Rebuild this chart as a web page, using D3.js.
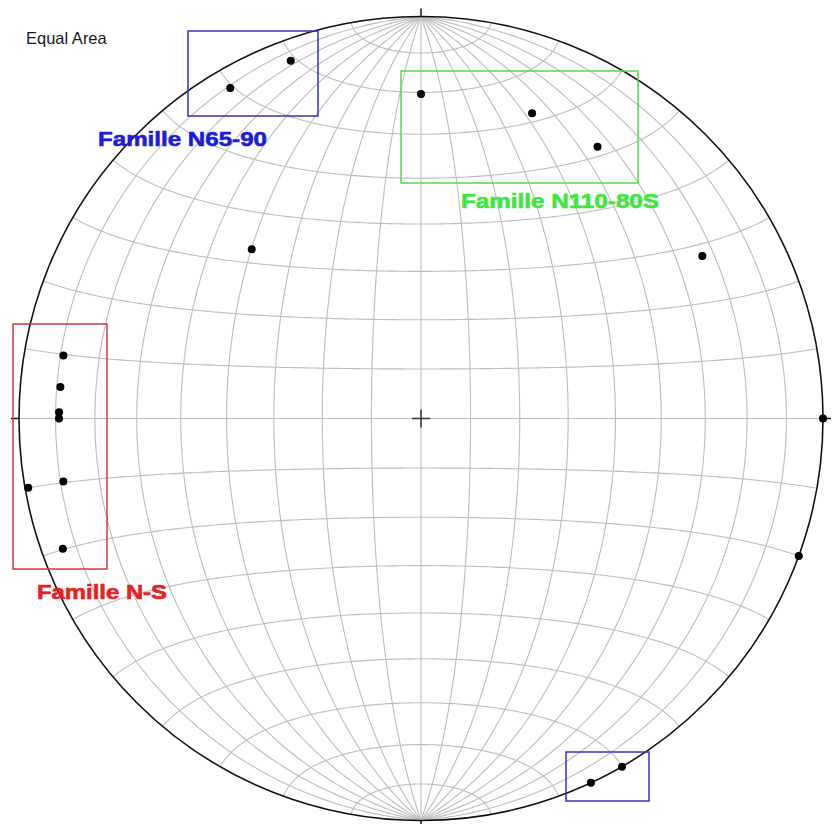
<!DOCTYPE html>
<html>
<head>
<meta charset="utf-8">
<script src="https://cdn.jsdelivr.net/npm/d3@7"></script>
<style>
  html, body { margin: 0; padding: 0; background: #fff; }
  svg { display: block; }
</style>
</head>
<body>
<svg id="chart" width="837" height="824"></svg>
<script>
// ---- Data: poles (lower hemisphere), trend / plunge in degrees ----
const poleFamily = ["N65-90","N65-90","N110-80S","N110-80S","N110-80S","other","other","other","other",
                    "N65-90","N65-90","N-S","N-S","N-S","N-S","N-S","N-S","N-S"];
const poleTrend  = [330, 340,   0,  20,  33, 315,  60,  90, 110, 155, 150, 280, 275, 271, 270, 260, 260, 250];
const polePlunge = [5.7, 5.9, 20.4, 20.3, 20.5, 40.2, 20.3, 0, 0, 0, 0, 10.6, 10.9, 10.9, 10.9, 10.6, 0.9, 5.8];

// Net grid (degrees)
const gridStep = 10;
const gridAngles = d3.range(-80, 81, gridStep);

// Labels
const titleText = "Equal Area";
const familyLabels = ["Famille N65-90", "Famille N110-80S", "Famille N-S"];

// ---- Layout ----
const W = 837, H = 824;
const cx = 421, cy = 418.5, R = 402;
const svg = d3.select("#chart");

const projection = d3.geoAzimuthalEqualArea()
  .rotate([0, 0])
  .scale(R / Math.SQRT2)
  .translate([cx, cy]);
const path = d3.geoPath(projection);

// Great circles (meridians) and small circles (parallels)
const gridLines = [];
gridAngles.forEach(lon => {
  gridLines.push({type: "LineString", coordinates: d3.range(-90, 90.01, 1).map(lat => [lon, lat])});
});
gridAngles.forEach(lat => {
  gridLines.push({type: "LineString", coordinates: d3.range(-90, 90.01, 1).map(lon => [lon, lat])});
});

svg.append("g")
  .selectAll("path")
  .data(gridLines)
  .join("path")
  .attr("d", path)
  .attr("fill", "none")
  .attr("stroke", "#bdbdbd")
  .attr("stroke-width", 1.1);

// Primitive circle
svg.append("circle")
  .attr("cx", cx).attr("cy", cy).attr("r", R)
  .attr("fill", "none").attr("stroke", "#111").attr("stroke-width", 1.6);

// Cardinal ticks
const tickLen = 8;
const ticks = [[0, -1], [1, 0], [0, 1], [-1, 0]];
svg.append("g").selectAll("line").data(ticks).join("line")
  .attr("x1", d => cx + d[0] * R).attr("y1", d => cy + d[1] * R)
  .attr("x2", d => cx + d[0] * (R + tickLen)).attr("y2", d => cy + d[1] * (R + tickLen))
  .attr("stroke", "#111").attr("stroke-width", 1.5);

// Center cross
const cross = 9;
svg.append("line").attr("x1", cx - cross).attr("x2", cx + cross).attr("y1", cy).attr("y2", cy)
  .attr("stroke", "#333").attr("stroke-width", 1.5);
svg.append("line").attr("x1", cx).attr("x2", cx).attr("y1", cy - cross).attr("y2", cy + cross)
  .attr("stroke", "#333").attr("stroke-width", 1.5);

// Poles -> geographic coords for the projection
const rad = Math.PI / 180;
function toLonLat(trend, plunge) {
  const X = Math.sin(plunge * rad);
  const Y = Math.cos(plunge * rad) * Math.sin(trend * rad);
  const Z = Math.cos(plunge * rad) * Math.cos(trend * rad);
  return [Math.atan2(Y, X) / rad, Math.asin(Math.max(-1, Math.min(1, Z))) / rad];
}
const poles = poleTrend.map((t, i) => ({family: poleFamily[i], ll: toLonLat(t, polePlunge[i])}));

svg.append("g").selectAll("circle").data(poles).join("circle")
  .attr("cx", d => projection(d.ll)[0])
  .attr("cy", d => projection(d.ll)[1])
  .attr("r", 4)
  .attr("fill", "#000");

// Annotation boxes
const boxes = [
  {x: 188, y: 31, w: 130, h: 85, c: "#3333c4"},
  {x: 401, y: 71, w: 237, h: 112, c: "#4fdc4f"},
  {x: 13, y: 324, w: 94, h: 245, c: "#d23a3a"},
  {x: 566, y: 752, w: 83, h: 49, c: "#3333c4"}
];
svg.append("g").selectAll("rect").data(boxes).join("rect")
  .attr("x", d => d.x).attr("y", d => d.y).attr("width", d => d.w).attr("height", d => d.h)
  .attr("fill", "none").attr("stroke", d => d.c).attr("stroke-width", 1.5);

// Title
svg.append("text")
  .attr("x", 26).attr("y", 44)
  .attr("font-family", "Liberation Sans, Arial, sans-serif")
  .attr("font-size", 16.5)
  .attr("fill", "#1a1a1a")
  .text(titleText);

// Family labels
const labelPos = [
  {x: 98, y: 146, len: 169, c: "#1c1cdc"},
  {x: 461, y: 208, len: 198, c: "#3ee63e"},
  {x: 37, y: 599, len: 130, c: "#e42222"}
];
svg.append("g").selectAll("text").data(familyLabels).join("text")
  .attr("x", (d, i) => labelPos[i].x)
  .attr("y", (d, i) => labelPos[i].y)
  .attr("textLength", (d, i) => labelPos[i].len)
  .attr("lengthAdjust", "spacingAndGlyphs")
  .attr("font-family", "Liberation Sans, Arial, sans-serif")
  .attr("font-weight", "bold")
  .attr("font-size", 20)
  .attr("fill", (d, i) => labelPos[i].c)
  .attr("stroke", (d, i) => labelPos[i].c)
  .attr("stroke-width", 0.6)
  .text(d => d);
</script>
</body>
</html>
